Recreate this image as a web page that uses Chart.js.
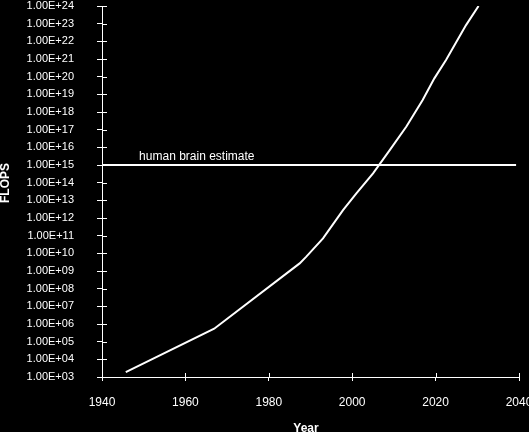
<!DOCTYPE html>
<html>
<head>
<meta charset="utf-8">
<script src="https://cdn.jsdelivr.net/npm/chart.js@4/dist/chart.umd.min.js"></script>
<style>
  html, body { margin: 0; padding: 0; background: #000; overflow: hidden; }
  #wrap { width: 529px; height: 432px; position: relative; }
</style>
</head>
<body>
<div id="wrap"><canvas id="c" width="529" height="432"></canvas></div>
<script>
// Computing power over time (FLOPS, log scale)
const years = [1945.7, 1966.9, 1987.4, 1989.0, 1993.0, 1997.8, 2001.0, 2005.0, 2009.0, 2013.0, 2016.9, 2019.7, 2022.5, 2027.3, 2030.3];
const flops = [1.9e3, 5.4e5, 2.7e9, 6.5e9, 7e10, 2.8e12, 2.5e13, 3.4e14, 7e15, 1.5e17, 4.8e18, 8e19, 8.7e20, 8.3e22, 1e24];

// Reference level for the human brain
const brainYears = [1940, 2039.3];
const brainFlops = [1e15, 1e15];
const brainLabel = 'human brain estimate';
const brainLabelYear = 1948.9;

// Axis ticks and titles
const xTicks = [1940, 1960, 1980, 2000, 2020, 2040];
const yExponents = [3, 4, 5, 6, 7, 8, 9, 10, 11, 12, 13, 14, 15, 16, 17, 18, 19, 20, 21, 22, 23, 24];
const xTitle = 'Year';
const yTitle = 'FLOPS';

const FONT = "'Liberation Sans', Arial, sans-serif";

function sciLabel(v) {
  const e = Math.round(Math.log10(v));
  return '1.00E+' + (e < 10 ? '0' + e : '' + e);
}

// Inner halves of the crossing tick marks, axis titles and the brain label
const extras = {
  id: 'extras',
  afterDraw(chart) {
    const { ctx, chartArea, scales } = chart;
    const xs = scales.x, ys = scales.y;
    ctx.save();
    ctx.strokeStyle = '#fff';
    ctx.lineWidth = 1;
    ctx.beginPath();
    yExponents.forEach(e => {
      const py = Math.round(ys.getPixelForValue(Math.pow(10, e))) + 0.5;
      ctx.moveTo(chartArea.left, py);
      ctx.lineTo(chartArea.left + 5, py);
    });
    xTicks.forEach(v => {
      const px = Math.round(xs.getPixelForValue(v)) + 0.5;
      ctx.moveTo(px, chartArea.bottom);
      ctx.lineTo(px, chartArea.bottom - 4);
    });
    ctx.stroke();

    ctx.fillStyle = '#fff';
    ctx.font = '12px ' + FONT;
    ctx.textAlign = 'left';
    ctx.textBaseline = 'alphabetic';
    ctx.fillText(brainLabel, xs.getPixelForValue(brainLabelYear), ys.getPixelForValue(1e15) - 5);

    ctx.font = 'bold 12px ' + FONT;
    ctx.textAlign = 'center';
    ctx.textBaseline = 'middle';
    ctx.fillText(xTitle, 306, 429);

    ctx.translate(6, 183);
    ctx.rotate(-Math.PI / 2);
    ctx.fillText(yTitle, 0, 0);
    ctx.restore();
  }
};

new Chart(document.getElementById('c'), {
  type: 'line',
  data: {
    datasets: [
      {
        label: 'FLOPS',
        data: years.map((y, i) => ({ x: y, y: flops[i] })),
        borderColor: '#fff',
        borderWidth: 2,
        pointRadius: 0,
        tension: 0,
        fill: false
      },
      {
        label: brainLabel,
        data: brainYears.map((y, i) => ({ x: y, y: brainFlops[i] })),
        borderColor: '#fff',
        borderWidth: 2,
        pointRadius: 0,
        tension: 0,
        fill: false
      }
    ]
  },
  options: {
    responsive: false,
    animation: false,
    devicePixelRatio: 1,
    layout: { padding: { top: 6, right: 10, bottom: 0, left: 0 } },
    plugins: { legend: { display: false }, tooltip: { enabled: false } },
    scales: {
      x: {
        type: 'linear',
        min: 1940,
        max: 2040,
        afterBuildTicks(s) { s.ticks = xTicks.map(v => ({ value: v })); },
        afterFit(s) { s.height = 55; s.paddingLeft = 0; s.paddingRight = 0; },
        grid: { drawOnChartArea: false, drawTicks: true, tickLength: 4, color: '#fff', lineWidth: 1 },
        border: { display: true, color: '#fff', width: 1 },
        ticks: {
          color: '#fff',
          font: { family: FONT, size: 12 },
          padding: 14,
          maxRotation: 0,
          callback: v => String(v)
        }
      },
      y: {
        type: 'logarithmic',
        min: 1e3,
        max: 1e24,
        afterBuildTicks(s) { s.ticks = yExponents.map(e => ({ value: Math.pow(10, e) })); },
        afterFit(s) { s.width = 102; s.paddingTop = 0; s.paddingBottom = 0; },
        grid: { drawOnChartArea: false, drawTicks: true, tickLength: 5, color: '#fff', lineWidth: 1 },
        border: { display: true, color: '#fff', width: 1 },
        ticks: {
          color: '#fff',
          font: { family: FONT, size: 11 },
          padding: 23,
          autoSkip: false,
          callback: v => sciLabel(v)
        }
      }
    }
  },
  plugins: [extras]
});
</script>
</body>
</html>
